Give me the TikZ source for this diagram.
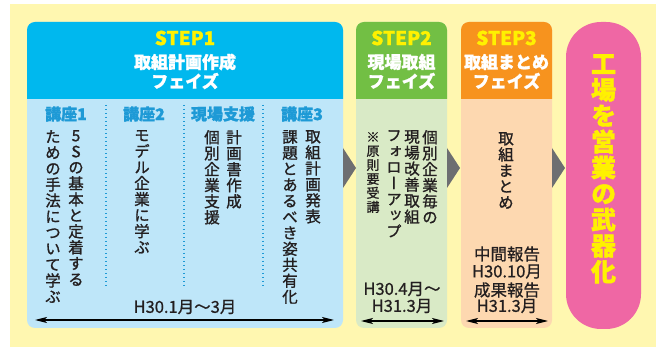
\documentclass[tikz,border=0pt]{standalone}
\usepackage{fontspec}
\setmainfont{Noto Sans CJK JP}[FakeBold=0.8, BoldFeatures={FakeBold=1.2}]
\newfontfamily\vjp{Noto Sans CJK JP}[RawFeature=+vert, FakeBold=1.2, BoldFeatures={FakeBold=1.5}]
\usetikzlibrary{arrows.meta}
\makeatletter
\def\vst@ck#1{\ifx#1\relax\else\hbox to 1em{\hss#1\hss}\expandafter\vst@ck\fi}
\newcommand\vtxt[2]{\vbox{\baselineskip=#1\lineskiplimit=-100pt\lineskip=0pt\vst@ck#2\relax}}
\makeatother
\definecolor{bgyellow}{HTML}{FFF7B0}
\definecolor{sAhead}{HTML}{00B8EE}
\definecolor{sAbody}{HTML}{BEE6F9}
\definecolor{sBhead}{HTML}{72BF44}
\definecolor{sBbody}{HTML}{D9EAC6}
\definecolor{sChead}{HTML}{F7931E}
\definecolor{sCbody}{HTML}{FDD8B0}
\definecolor{pinkbox}{HTML}{EF67A4}
\definecolor{ylw}{HTML}{FFF100}
\definecolor{hblue}{HTML}{1E9AD6}
\definecolor{txt}{HTML}{231F20}
\definecolor{chev}{HTML}{6D6E71}
\tikzset{
  steptitle/.style={inner sep=0pt, text=ylw, font=\bfseries\fontsize{19}{19}\selectfont},
  phase/.style={inner sep=0pt, text=white, font=\bfseries\fontsize{17}{17}\selectfont},
  colhead/.style={inner sep=0pt, text=hblue, font=\bfseries\fontsize{16}{16}\selectfont},
  vbody/.style={anchor=north, inner sep=0pt, text=txt, font=\vjp\fontsize{15.5}{15.5}\selectfont},
  vsmall/.style={anchor=north, inner sep=0pt, text=txt, font=\vjp\fontsize{13}{13}\selectfont},
  datetxt/.style={inner sep=0pt, text=txt, font=\fontsize{16.5}{16.5}\selectfont},
  sep/.style={hblue, line width=1.5pt, dash pattern=on 1.5pt off 2.5pt},
  span/.style={line width=1.2pt, {Stealth[length=12pt,width=6pt,inset=3pt]}-{Stealth[length=12pt,width=6pt,inset=3pt]}},
  chevron/.style={fill=chev},
}
\begin{document}
\begin{tikzpicture}[x=1pt,y=-1pt]
\useasboundingbox (0,0) rectangle (656,347);
\fill[white] (0,0) rectangle (656,347);
\fill[bgyellow] (10,4) rectangle (656,347);
% STEP1
\fill[sAbody, rounded corners=8pt] (27,22) rectangle (343,328);
\fill[sAhead] (27,99) [rounded corners=8pt] -- (27,22) -- (343,22) [sharp corners] -- (343,99) -- cycle;
% STEP2
\fill[sBbody, rounded corners=8pt] (356,22) rectangle (447,328);
\fill[sBhead] (356,99) [rounded corners=8pt] -- (356,22) -- (447,22) [sharp corners] -- (447,99) -- cycle;
% STEP3
\fill[sCbody, rounded corners=8pt] (461,22) rectangle (552,328);
\fill[sChead] (461,99) [rounded corners=8pt] -- (461,22) -- (552,22) [sharp corners] -- (552,99) -- cycle;
% goal
\fill[pinkbox, rounded corners=35pt] (566,22) rectangle (641,329);
% chevrons
\fill[chevron] (343,148) -- (356,168) -- (343,188) -- cycle;
\fill[chevron] (447,148) -- (460,168) -- (447,188) -- cycle;
\fill[chevron] (552,148) -- (565,168) -- (552,188) -- cycle;
% headers
\node[steptitle] (t1) at (185,38) {STEP1};
\node[phase] (p1a) at (185,62) {取組計画作成};
\node[phase] (p1b) at (185,81) {フェイズ};
\node[steptitle] (t2) at (401.5,38) {STEP2};
\node[phase] (p2a) at (401.5,62) {現場取組};
\node[phase] (p2b) at (401.5,81) {フェイズ};
\node[steptitle] (t3) at (506.5,38) {STEP3};
\node[phase] (p3a) at (506.5,62) {取組まとめ};
\node[phase] (p3b) at (506.5,81) {フェイズ};
% column heads
\node[colhead] (h1) at (66,114) {講座1};
\node[colhead] (h2) at (144,114) {講座2};
\node[colhead] (h3) at (223,114) {現場支援};
\node[colhead] (h4) at (302,114) {講座3};
\draw[sep] (106,105) -- (106,288);
\draw[sep] (184,105) -- (184,288);
\draw[sep] (263,105) -- (263,288);
% step1 texts
\node[vbody] (c1a) at (76,130) {\vtxt{16pt}{5Sの基本と定着する}};
\node[vbody] (c1b) at (53,130) {\vtxt{16pt}{ための手法について学ぶ}};
\node[vbody] (c2a) at (142,130) {\vtxt{16pt}{モデル企業に学ぶ}};
\node[vbody] (c3a) at (234,130) {\vtxt{16pt}{計画書作成}};
\node[vbody] (c3b) at (212,130) {\vtxt{16pt}{個別企業支援}};
\node[vbody] (c4a) at (313,130) {\vtxt{16pt}{取組計画発表}};
\node[vbody] (c4b) at (290,130) {\vtxt{16pt}{課題とあるべき姿共有化}};
\node[datetxt] (d1) at (185,307) {H30.1月～3月};
\coordinate (a1l) at (35,320);
\coordinate (a1r) at (334,320);
\draw[span] (a1l) -- (a1r);
% step2 texts
\node[vbody] (e1) at (430,130) {\vtxt{16pt}{個別企業毎の}};
\node[vbody] (e2) at (412,130) {\vtxt{16pt}{現場改善取組}};
\node[vbody] (e3) at (394,130) {\vtxt{16pt}{フォローアップ}};
\node[vsmall] (e4) at (373,132) {\vtxt{14pt}{※原則要受講}};
\node[datetxt] (d2a) at (402,289) {H30.4月～};
\node[datetxt] (d2b) at (402,306) {H31.3月};
\coordinate (a2l) at (361,321);
\coordinate (a2r) at (444,321);
\draw[span] (a2l) -- (a2r);
% step3 texts
\node[vbody] (f1) at (506,132) {\vtxt{16pt}{取組まとめ}};
\node[datetxt] (g1) at (507,254) {中間報告};
\node[datetxt] (g2) at (507,271.5) {H30.10月};
\node[datetxt] (g3) at (507,290) {成果報告};
\node[datetxt] (g4) at (507,306) {H31.3月};
\coordinate (a3l) at (466,321);
\coordinate (a3r) at (548,321);
\draw[span] (a3l) -- (a3r);
% goal text
\node[anchor=north, inner sep=0pt, text=ylw, font=\vjp\bfseries\fontsize{25}{25}\selectfont] (goal) at (603.5,54) {\vtxt{26pt}{工場を営業の武器化}};
\end{tikzpicture}
\end{document}
